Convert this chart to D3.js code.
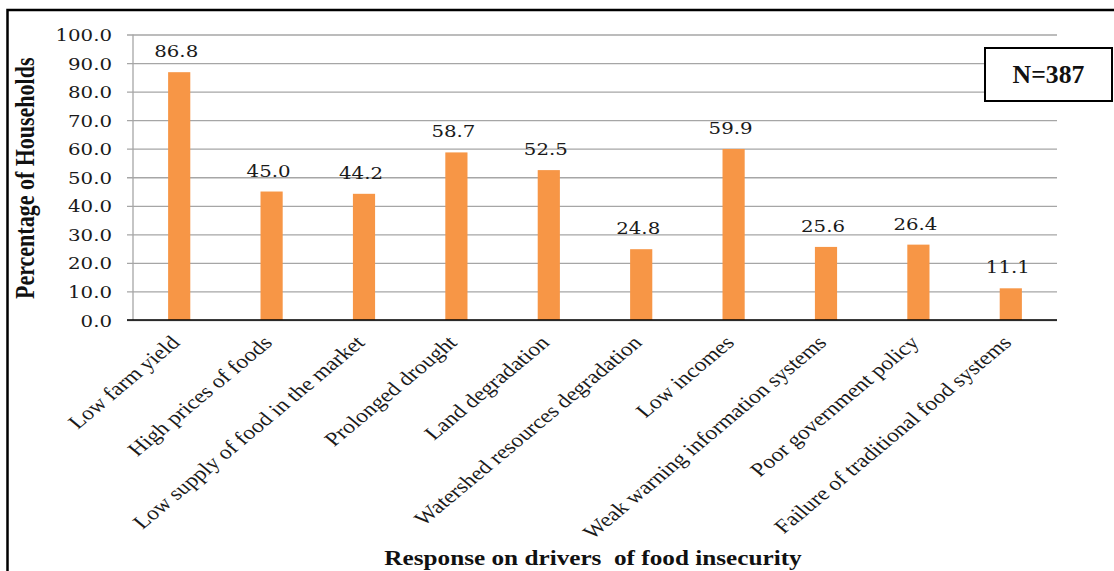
<!DOCTYPE html>
<html>
<head>
<meta charset="utf-8">
<script src="https://cdn.jsdelivr.net/npm/d3@7/dist/d3.min.js"></script>
<style>
  html, body { margin: 0; padding: 0; background: #fff; }
  svg { display: block; font-family: "Liberation Serif", "Times New Roman", serif; }
</style>
</head>
<body>
<svg id="chart" width="1114" height="571"></svg>
<script>
// Drivers of food insecurity reported by households (percent)
const categories = [
  "Low farm yield",
  "High prices of foods",
  "Low supply of food in the market",
  "Prolonged drought",
  "Land degradation",
  "Watershed resources degradation",
  "Low incomes",
  "Weak warning information systems",
  "Poor government policy",
  "Failure of traditional food systems"
];
const percentages = [86.8, 45.0, 44.2, 58.7, 52.5, 24.8, 59.9, 25.6, 26.4, 11.1];
const yTicks = [0, 10, 20, 30, 40, 50, 60, 70, 80, 90, 100];
const sampleLabel = "N=387";
const yTitle = "Percentage of Households";
const xTitle = "Response on drivers \u00a0of food insecurity";

const NUM_FONT = "DejaVu Serif, serif";
const TEXT_FONT = "Liberation Serif, Times New Roman, serif";
const STRETCH = 1.2;   // text is drawn slightly widened

const svg = d3.select("#chart");

// outer frame (top and left edges visible)
svg.append("rect")
  .attr("x", 7.5).attr("y", 10)
  .attr("width", 1300).attr("height", 800)
  .attr("fill", "none").attr("stroke", "#000").attr("stroke-width", 2.5);

const plot = { left: 133, right: 1057, top: 34.5, bottom: 320 };

const x = d3.scaleBand()
  .domain(categories)
  .range([plot.left, plot.right])
  .paddingInner(0.76)
  .paddingOuter(0.38);

const y = d3.scaleLinear()
  .domain([0, 100])
  .range([plot.bottom, plot.top]);

// horizontal gridlines with outward tick stubs
const yAxis = d3.axisLeft(y)
  .tickValues(yTicks)
  .tickSize(-(plot.right - plot.left))
  .tickFormat(d3.format(".1f"));

const gy = svg.append("g")
  .attr("transform", `translate(${plot.left},0)`)
  .call(yAxis);
gy.select(".domain").remove();
gy.selectAll(".tick line")
  .attr("x1", -6)
  .attr("stroke", "#a6a6a6")
  .attr("stroke-width", 1.3);
gy.selectAll(".tick text")
  .attr("x", null)
  .attr("dy", null)
  .attr("transform", "translate(-21,6) scale(1.13,1)")
  .attr("text-anchor", "end")
  .attr("font-size", 17.5)
  .attr("font-family", NUM_FONT)
  .attr("fill", "#1a1a1a");

// vertical axis line
svg.append("line")
  .attr("x1", plot.left).attr("x2", plot.left)
  .attr("y1", plot.top).attr("y2", plot.bottom)
  .attr("stroke", "#a6a6a6").attr("stroke-width", 1.3);

// bars
svg.append("g").selectAll("rect")
  .data(percentages)
  .join("rect")
  .attr("x", (d, i) => x(categories[i]))
  .attr("y", d => y(d))
  .attr("width", x.bandwidth())
  .attr("height", d => y(0) - y(d))
  .attr("fill", "#f79646");

// baseline
svg.append("line")
  .attr("x1", plot.left - 6).attr("x2", plot.right)
  .attr("y1", plot.bottom).attr("y2", plot.bottom)
  .attr("stroke", "#000").attr("stroke-width", 1.5);

// value labels
svg.append("g").selectAll("text")
  .data(percentages)
  .join("text")
  .attr("transform", (d, i) =>
    `translate(${x(categories[i]) + x.bandwidth() / 2 - 3},${y(d) - 15}) scale(1.13,1)`)
  .attr("text-anchor", "middle")
  .attr("font-family", NUM_FONT)
  .attr("font-size", 17.5)
  .attr("fill", "#1a1a1a")
  .text(d => d.toFixed(1));

// rotated category labels
svg.append("g").selectAll("text")
  .data(categories)
  .join("text")
  .attr("transform", d =>
    `translate(${x(d) + x.bandwidth() / 2 - 4},${plot.bottom + 19}) scale(${STRETCH},1) rotate(-45)`)
  .attr("text-anchor", "end")
  .attr("dy", "0.35em")
  .attr("font-family", TEXT_FONT)
  .attr("font-size", 19.6)
  .attr("fill", "#1a1a1a")
  .text(d => d);

// axis titles
svg.append("text")
  .attr("transform", `translate(34,${(plot.top + plot.bottom) / 2 + 1}) scale(${STRETCH},1) rotate(-90)`)
  .attr("text-anchor", "middle")
  .attr("font-family", TEXT_FONT)
  .attr("font-size", 22)
  .attr("font-weight", "bold")
  .attr("fill", "#111")
  .text(yTitle);

svg.append("text")
  .attr("transform", `translate(593,565) scale(1.23,1)`)
  .attr("text-anchor", "middle")
  .attr("font-family", TEXT_FONT)
  .attr("font-size", 20.5)
  .attr("font-weight", "bold")
  .attr("fill", "#111")
  .text(xTitle);

// sample size box
svg.append("rect")
  .attr("x", 985).attr("y", 48)
  .attr("width", 127).attr("height", 53)
  .attr("fill", "#fff").attr("stroke", "#000").attr("stroke-width", 2);
svg.append("text")
  .attr("transform", "translate(1048.5,82.5) scale(1.05,1)")
  .attr("text-anchor", "middle")
  .attr("font-family", TEXT_FONT)
  .attr("font-size", 24.5)
  .attr("font-weight", "bold")
  .attr("fill", "#111")
  .text(sampleLabel);
</script>
</body>
</html>
